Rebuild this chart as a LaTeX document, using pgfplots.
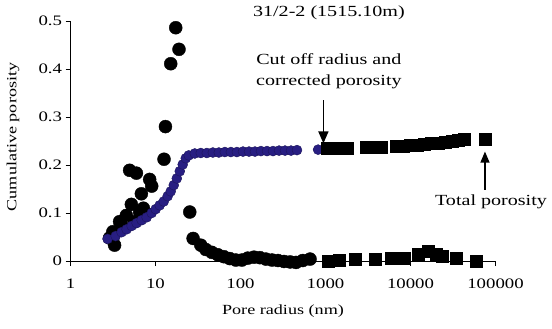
\documentclass[border=0pt]{standalone}
\usepackage{fontspec}
\setmainfont{Liberation Serif}[FakeStretch=1.3]
\usepackage{pgfplots}
\pgfplotsset{compat=1.18}
\usetikzlibrary{arrows.meta}
\definecolor{navyb}{RGB}{40,30,130}

\pgfplotstableread{
r y
17.3 0.486
18.9 0.441
15.1 0.411
13.1 0.280
12.6 0.212
25.3 0.102
4.96 0.189
5.96 0.183
8.54 0.170
9.02 0.156
6.82 0.140
5.20 0.118
6.51 0.102
7.81 0.099
7.20 0.110
4.54 0.095
5.69 0.082
3.78 0.082
4.20 0.070
3.15 0.061
2.88 0.048
3.30 0.033
27.7 0.047
34.1 0.033
39.1 0.024
46.0 0.018
54.1 0.013
63.7 0.009
75.0 0.005
88.3 0.002
104 0.002
122 0.006
144 0.008
169 0.007
199 0.004
235 0.002
276 0.001
325 -0.001
383 -0.002
450 -0.003
540 0.001
658 0.004
}\incrcirc

\pgfplotstableread{
r y
1073 -0.001
1446 0.002
2234 0.004
3846 0.004
5940 0.006
8460 0.006
12360 0.015
16220 0.020
20150 0.015
23710 0.010
34670 0.006
59700 0.000
}\incrsq

\pgfplotstableread{
r y
2.73 0.046
3.40 0.052
3.99 0.060
4.57 0.066
5.24 0.073
6.00 0.079
6.88 0.085
7.87 0.091
9.02 0.100
10.05 0.108
11.2 0.116
12.5 0.124
13.9 0.135
15.1 0.145
16.4 0.158
17.8 0.172
19.3 0.187
20.9 0.201
22.7 0.214
24.6 0.220
29.0 0.224
34.1 0.225
40.2 0.225
47.3 0.226
55.6 0.226
65.5 0.227
77.1 0.227
90.7 0.227
107 0.228
126 0.228
148 0.228
174 0.229
205 0.229
241 0.229
284 0.230
334 0.230
393 0.230
462 0.231
818 0.232
}\cumcirc

\pgfplotstableread{
r y
1045 0.234
1262 0.234
1527 0.234
1798 0.235
3013 0.237
3741 0.237
4527 0.238
6804 0.239
8222 0.240
9953 0.241
12020 0.242
14550 0.243
17580 0.245
21280 0.246
25700 0.248
31120 0.250
36640 0.252
43050 0.254
76200 0.253
}\cumsq

\begin{document}
\begin{tikzpicture}
\useasboundingbox (-70.5bp,-68bp) rectangle (481.5bp,261bp);
\begin{axis}[
  at={(0,0)}, anchor=south west,
  scale only axis, width=425bp, height=240bp,
  xmode=log, xmin=1, xmax=100000, ymin=0, ymax=0.5,
  axis lines=left, axis line style={-, line width=0.8bp},
  xtick={1,10,100,1000,10000,100000},
  xticklabels={1,10,100,1000,10000,100000},
  ytick={0,0.1,0.2,0.3,0.4,0.5},
  yticklabels={0,0.1,0.2,0.3,0.4,0.5},
  xminorticks=false, yminorticks=false,
  tick align=outside, major tick length=5bp,
  tick style={line width=0.8bp, black},
  ticklabel style={font=\fontsize{14.5}{16}\selectfont},
  xticklabel style={yshift=-9bp},
  label style={font=\fontsize{14}{17}\selectfont},
  xlabel={Pore radius (nm)}, ylabel={Cumulative porosity},
  xlabel style={at={(axis description cs:0.5,-0.208)}, anchor=center},
  ylabel style={at={(axis description cs:-0.135,0.517)}, anchor=center},
  clip=false,
]
\addplot[only marks, mark=*, mark size=6.5bp, black] table[x=r,y=y] {\incrcirc};
\addplot[only marks, mark=*, mark size=5bp, mark options={fill=navyb, draw=navyb!70!black}] table[x=r,y=y] {\cumcirc};
\addplot[only marks, mark=square*, mark size=6bp, black] table[x=r,y=y] {\incrsq};
\addplot[only marks, mark=square*, mark size=6bp, black] table[x=r,y=y] {\cumsq};

\node[font=\fontsize{15.5}{18}\selectfont] at (axis cs:1097,0.518) {31/2-2 (1515.10m)};
\node[font=\fontsize{15.5}{21}\selectfont, align=center] at (axis cs:1097,0.395) {Cut off radius and\\corrected porosity};
\draw[line width=1.5bp, -{Triangle[width=10bp,length=12bp]}] (axis cs:945,0.335) -- (axis cs:945,0.245);
\node[font=\fontsize{15.5}{18}\selectfont] at (axis cs:88500,0.123) {Total porosity};
\draw[line width=1.2bp, -{Triangle[width=9bp,length=11bp]}] (axis cs:75200,0.148) -- (axis cs:75200,0.228);
\end{axis}
\end{tikzpicture}
\end{document}
